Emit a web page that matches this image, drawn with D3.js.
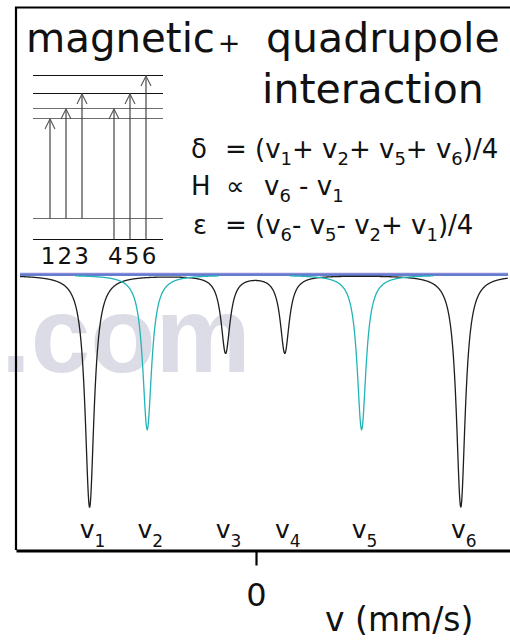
<!DOCTYPE html>
<html>
<head>
<meta charset="utf-8">
<script src="https://cdn.jsdelivr.net/npm/d3@7/dist/d3.min.js"></script>
<style>
  html, body { margin: 0; padding: 0; background: #fff; }
  svg { display: block; font-family: "DejaVu Sans", Verdana, sans-serif; }
</style>
</head>
<body>
<svg id="chart" width="510" height="641"></svg>
<script>
// Mössbauer sextet: six absorption lines (mm/s) and their relative depths 3:2:1:1:2:3
const lineNames = ["1", "2", "3", "4", "5", "6"];
const lineVelocity = [-5.2, -3.4, -0.95, 0.9, 3.3, 6.4];
const lineIntensity = [3, 2, 1, 1, 2, 3];
// lines 2 and 5 (Δm = 0) are drawn separately in cyan
const outerInnerLines = [0, 2, 3, 5];
const deltaMZeroLines = [1, 4];
const lineWidth = 0.17;          // Lorentzian half width, mm/s
const xTicks = [0];

// nuclear sublevel energies (arbitrary units) and the six transitions between them
const groundLevels = [0, 1.3];
const excitedLevels = [7.4, 8.0, 8.9, 10.0];
const transitions = [[1, 0], [1, 1], [1, 2], [0, 1], [0, 2], [0, 3]];

const svg = d3.select("#chart");

// faint watermark behind the spectrum
svg.append("text")
  .attr("x", 1).attr("y", 372)
  .attr("font-family", "Liberation Sans, Arial, sans-serif")
  .attr("font-weight", "bold")
  .attr("font-size", 107)
  .attr("fill", "#dcdce6")
  .text(".com");

// scales
const x = d3.scaleLinear().domain([-7.5, 7.9375]).range([16, 510]);
const y = d3.scaleLinear().domain([0, 3]).range([275, 507]);

const lorentz = (v, i) =>
  lineIntensity[i] * lineWidth * lineWidth /
  ((v - lineVelocity[i]) ** 2 + lineWidth * lineWidth);

const line = d3.line().x(d => x(d[0])).y(d => y(d[1]));

// summed curve of lines 1, 3, 4, 6
const vStart = x.invert(20), vEnd = x.invert(508);
const full = d3.range(vStart, vEnd, 0.01).map(v =>
  [v, d3.sum(outerInnerLines, i => lorentz(v, i))]);

// baseline
svg.append("line")
  .attr("x1", 20).attr("x2", 508)
  .attr("y1", y(0) - 1.5).attr("y2", y(0) - 1.5)
  .attr("stroke", "#8c8cd6").attr("stroke-width", 1.5);
svg.append("line")
  .attr("x1", 20).attr("x2", 508)
  .attr("y1", y(0)).attr("y2", y(0))
  .attr("stroke", "#3558c0").attr("stroke-width", 1.5);

svg.append("path")
  .attr("d", line(full))
  .attr("fill", "none")
  .attr("stroke", "#1e1e1e")
  .attr("stroke-width", 1.3);

deltaMZeroLines.forEach(i => {
  const pts = d3.range(lineVelocity[i] - 2.25, lineVelocity[i] + 2.25, 0.01)
    .map(v => [v, lorentz(v, i)]);
  svg.append("path")
    .attr("d", line(pts))
    .attr("fill", "none")
    .attr("stroke", "#22b4b8")
    .attr("stroke-width", 1.3);
});

// text with subscripts: segments are plain strings or {subscript: "n"}
function richText(sel, segs, size, subSize, shift) {
  let cur = 0;
  segs.forEach(s => {
    const isSub = typeof s !== "string";
    const target = isSub ? shift : 0;
    sel.append("tspan")
      .attr("dy", target - cur)
      .attr("font-size", isSub ? subSize : size)
      .text(isSub ? s.subscript : s);
    cur = target;
  });
  return sel;
}

// peak labels v1 ... v6
lineNames.forEach((n, i) => {
  const t = svg.append("text")
    .attr("x", x(lineVelocity[i]) + 3)
    .attr("y", 538)
    .attr("text-anchor", "middle")
    .attr("fill", "#111");
  richText(t, ["v", { subscript: n }], 25, 17, 9);
});

// frame: left and top edges
svg.append("path")
  .attr("d", `M${x.range()[1]},7.5 H16 V550`)
  .attr("fill", "none")
  .attr("stroke", "#000")
  .attr("stroke-width", 2.2);

// velocity axis
const axis = svg.append("g")
  .attr("transform", "translate(0,550.5)")
  .call(d3.axisBottom(x).tickValues(xTicks).tickSizeInner(15).tickSizeOuter(0)
    .tickPadding(18).tickFormat(d3.format("d")));
axis.select(".domain").attr("stroke", "#000").attr("stroke-width", 3);
axis.selectAll(".tick line").attr("stroke", "#000").attr("stroke-width", 2.2);
axis.selectAll(".tick text")
  .attr("font-family", "DejaVu Sans, Verdana, sans-serif")
  .attr("font-size", 32)
  .attr("fill", "#111");

svg.append("text")
  .attr("x", 325).attr("y", 631)
  .attr("font-size", 33)
  .attr("fill", "#111")
  .text("v (mm/s)");

// title
svg.append("text").attr("x", 26).attr("y", 52).attr("font-size", 41).attr("fill", "#111")
  .attr("textLength", 189).attr("lengthAdjust", "spacingAndGlyphs").text("magnetic");
svg.append("text").attr("x", 229).attr("y", 52).attr("text-anchor", "middle").attr("font-size", 27).attr("fill", "#111").text("+");
svg.append("text").attr("x", 266).attr("y", 52).attr("font-size", 41).attr("fill", "#111").text("quadrupole");
svg.append("text").attr("x", 262).attr("y", 103).attr("font-size", 41).attr("fill", "#111").text("interaction");

// energy level diagram
const ex = d3.scalePoint().domain(["1", "2", "3", "", "4", "5", "6"]).range([50, 146]);
const exLabel = ex.copy().range([48, 149]);
const ey = d3.scaleLinear().domain([0, 10]).range([239, 75]);
const diagram = svg.append("g");
groundLevels.concat(excitedLevels).forEach((e, k) => {
  diagram.append("line")
    .attr("x1", 33).attr("x2", 163)
    .attr("y1", Math.round(ey(e)) + 0.5).attr("y2", Math.round(ey(e)) + 0.5)
    .attr("stroke", [0, 4, 5].includes(k) ? "#111" : "#6e6e6e")
    .attr("stroke-width", 1.2);
});
transitions.forEach(([g, e], i) => {
  const cx = ex(lineNames[i]);
  const y0 = Math.round(ey(groundLevels[g])) + 0.5;
  const y1 = Math.round(ey(excitedLevels[e])) + 1;
  diagram.append("line")
    .attr("x1", cx).attr("x2", cx).attr("y1", y0).attr("y2", y1)
    .attr("stroke", "#333").attr("stroke-width", 1.1);
  diagram.append("path")
    .attr("d", `M${cx - 5},${y1 + 10} L${cx},${y1} L${cx + 5},${y1 + 10}`)
    .attr("fill", "none").attr("stroke", "#555").attr("stroke-width", 1.1);
  diagram.append("text")
    .attr("x", exLabel(lineNames[i])).attr("y", 264)
    .attr("text-anchor", "middle")
    .attr("font-size", 23)
    .attr("fill", "#111")
    .text(lineNames[i]);
});

// hyperfine parameter formulas
function formula(yBase, sym, symX, parts) {
  svg.append("text").attr("x", symX).attr("y", yBase).attr("font-size", 26).attr("fill", "#111").text(sym);
  parts.forEach(p => {
    const t = svg.append("text").attr("x", p.x).attr("y", yBase).attr("fill", "#111");
    richText(t, p.segs, 26, 18, 7);
  });
}
const v = n => ["v", { subscript: n }];
formula(158, "δ", 191, [
  { x: 225, segs: ["= (", ...v("1"), "+ ", ...v("2"), "+ ", ...v("5"), "+ ", ...v("6"), ")/4"] }
]);
formula(195, "H", 191, [
  { x: 226, segs: ["∝"] },
  { x: 264, segs: [...v("6"), " - ", ...v("1")] }
]);
formula(234, "ε", 193, [
  { x: 225, segs: ["= (", ...v("6"), "- ", ...v("5"), "- ", ...v("2"), "+ ", ...v("1"), ")/4"] }
]);
</script>
</body>
</html>
